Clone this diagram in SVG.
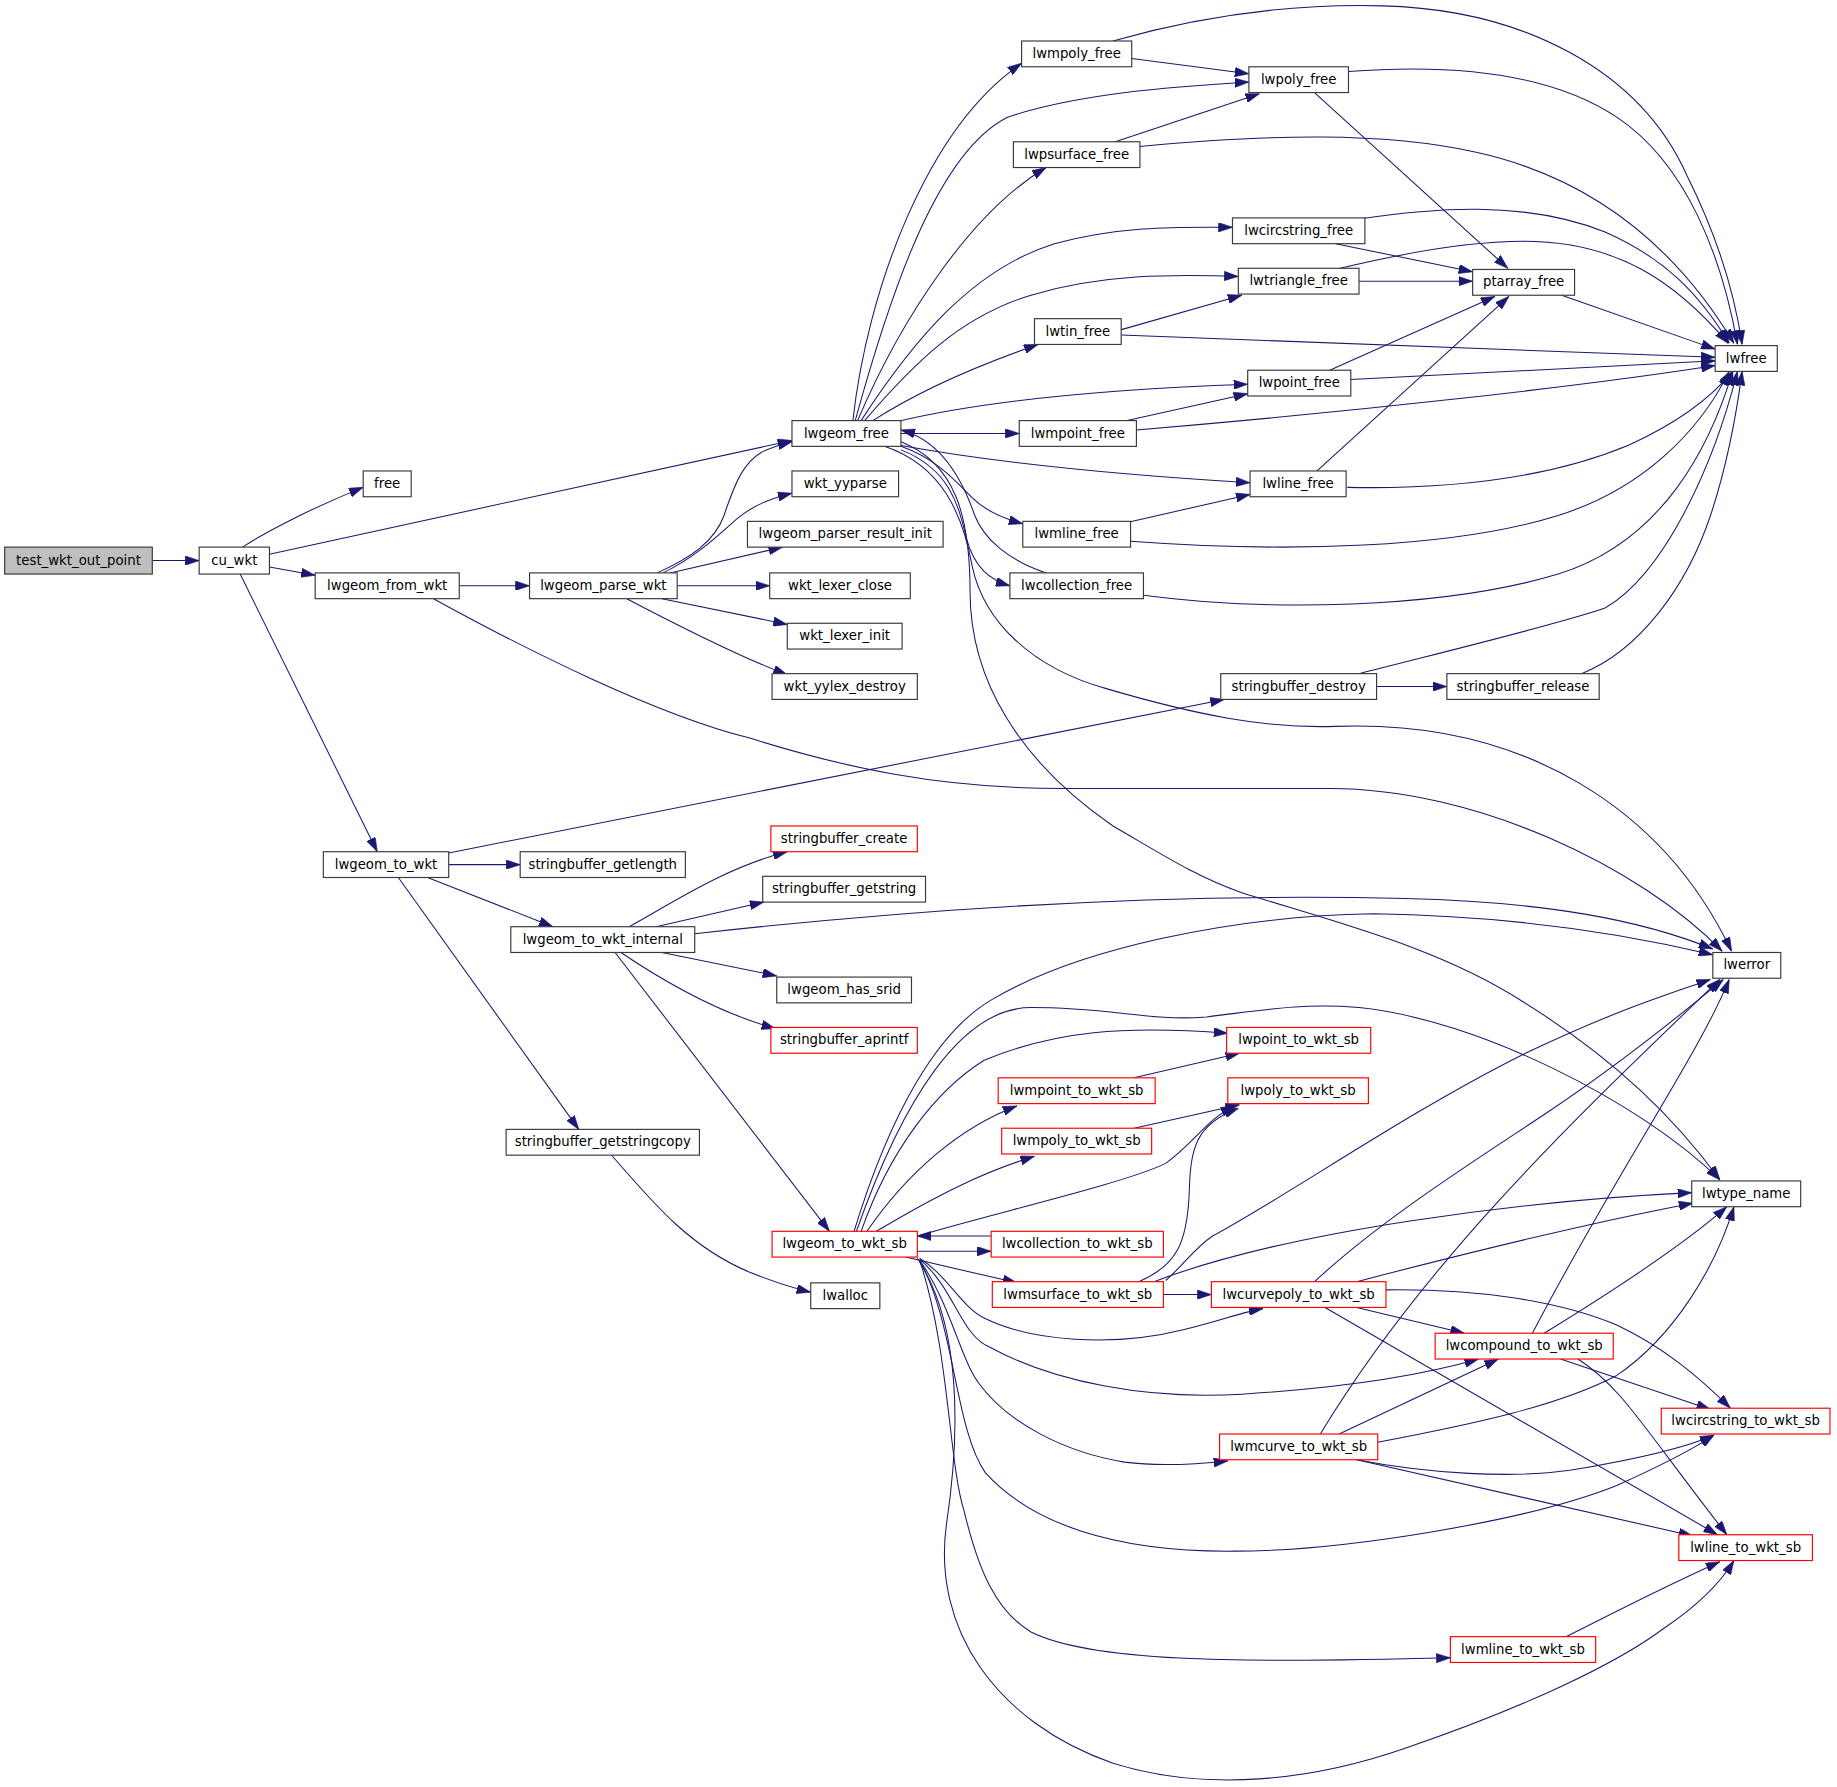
<svg xmlns="http://www.w3.org/2000/svg" width="1837" height="1787" viewBox="0 0 1837 1787">
<style>
.nd rect{fill:#ffffff;stroke:#3a3a3a;stroke-width:1}
.nd.red rect{stroke:#ff0000}
.nd.root rect{fill:#bfbfbf}
.nd text{font-family:"DejaVu Sans","Liberation Sans",sans-serif;font-size:11.35px;fill:#000000;text-anchor:middle}
#connectors path{fill:none;stroke:#191970;stroke-width:0.9;marker-end:url(#ah)}
</style>
<defs>
<marker id="ah" markerUnits="userSpaceOnUse" markerWidth="12" markerHeight="8" viewBox="0 0 12 8" refX="12" refY="4" orient="auto">
<path d="M0,0 L12,4 L0,8 z" fill="#191970" stroke="#191970" stroke-width="0.5"/>
</marker>
</defs>
<rect x="0" y="0" width="1837" height="1787" fill="#ffffff"/>
<g transform="scale(1.17156)">
<g id="connectors">
<path d="M130,478.5 L170,478.5"/>
<path d="M207,467 C230,452 270,432 310,416"/>
<path d="M230,473 L676,376"/>
<path d="M230,484 L269,491"/>
<path d="M205,490 L322,727"/>
<path d="M392,500 L452,500"/>
<path d="M370,511 C450,555 560,610 640,630 C720,655 800,673 907,673 L1135,673 C1260,673 1400,740 1470,812"/>
<path d="M561,489 C590,476 610,462 618,440 C628,410 635,395 650,386 C660,381 668,379 676,377"/>
<path d="M566,489 C595,475 615,455 630,442 C645,430 660,425 676,421"/>
<path d="M572,489 L668,467"/>
<path d="M578,500 L657,500"/>
<path d="M565,511 L672,533"/>
<path d="M535,511 C575,532 630,560 672,576"/>
<path d="M728,359 C740,250 790,110 872,54"/>
<path d="M730,359 C760,250 800,130 860,100 C920,80 1000,74 1066,70"/>
<path d="M732,359 C770,270 830,180 893,143"/>
<path d="M735,359 C780,290 830,230 900,208 C960,192 1010,194 1052,194"/>
<path d="M738,359 C780,310 820,270 880,252 C940,234 1000,234 1057,236"/>
<path d="M745,359 C790,330 840,310 886,294"/>
<path d="M765,360 C840,342 950,332 1065,328"/>
<path d="M769,370 L870,370"/>
<path d="M768,380 C850,395 950,405 1067,412"/>
<path d="M769,381 C800,392 815,410 830,425 C842,437 858,443 873,447"/>
<path d="M769,384 C810,400 818,430 825,460 C832,485 845,495 862,500"/>
<path d="M893,489 C860,478 840,460 832,440 C820,405 800,375 769,367"/>
<path d="M755,381 C805,398 822,440 830,484 C840,530 880,570 945,588 C1020,610 1080,622 1140,620 C1300,614 1420,690 1478,812"/>
<path d="M769,377 C815,395 828,440 828,505 C828,580 870,650 950,705 C990,728 1020,748 1060,762 C1150,790 1230,810 1300,855 C1380,905 1430,955 1468,1007"/>
<path d="M966,50 L1066,63"/>
<path d="M950,35 C1020,15 1100,3 1180,5 C1300,8 1400,60 1440,150 C1470,210 1482,260 1487,294"/>
<path d="M1151,61 C1230,55 1320,60 1380,100 C1440,140 1470,220 1483,294"/>
<path d="M1122,79 L1287,229"/>
<path d="M952,121 L1075,80"/>
<path d="M973,125 C1080,115 1180,112 1260,130 C1360,152 1430,210 1480,293"/>
<path d="M1140,208 L1257,232"/>
<path d="M1160,187 C1220,178 1300,170 1370,198 C1420,220 1450,250 1476,293"/>
<path d="M1160,240 L1257,240"/>
<path d="M1144,229 C1190,218 1250,206 1300,206 C1380,206 1430,240 1475,293"/>
<path d="M955,282 L1060,252"/>
<path d="M957,286 L1464,305"/>
<path d="M1135,316 L1276,253"/>
<path d="M1153,324 L1464,308"/>
<path d="M962,359 L1065,336"/>
<path d="M970,367 C1150,352 1350,330 1464,312"/>
<path d="M1123,403 L1288,253"/>
<path d="M1150,416 C1250,418 1330,405 1390,380 C1430,362 1460,340 1479,317"/>
<path d="M962,446 L1067,422"/>
<path d="M965,462 C1100,472 1240,468 1330,440 C1400,418 1450,370 1476,317"/>
<path d="M976,508 C1080,522 1230,520 1330,490 C1420,462 1460,380 1479,317"/>
<path d="M1160,575 C1230,557 1330,533 1370,519 C1420,490 1462,400 1483,317"/>
<path d="M1175,586 L1235,586"/>
<path d="M1350,575 C1400,555 1440,500 1460,440 C1475,395 1482,355 1487,317"/>
<path d="M1333,252 L1464,298"/>
<path d="M383,728 L1045,597"/>
<path d="M383,738 L444,738"/>
<path d="M365,749 L472,791"/>
<path d="M340,749 L494,964"/>
<path d="M537,791 C575,770 620,740 672,727"/>
<path d="M560,791 L652,770"/>
<path d="M593,797 C800,774 1000,762 1200,767 C1320,770 1400,785 1462,810"/>
<path d="M565,813 L663,833"/>
<path d="M530,813 C570,840 615,865 662,878"/>
<path d="M525,813 L708,1051"/>
<path d="M522,986 C560,1030 590,1065 640,1086 C660,1094 675,1099 692,1103"/>
<path d="M729,1051 C760,950 800,880 847,853 C920,810 1050,782 1172,780 C1300,782 1400,800 1462,815"/>
<path d="M735,1051 C760,980 800,930 840,905 C900,880 960,875 1048,882"/>
<path d="M731,1051 C770,940 820,860 880,860 C950,860 980,872 1030,868 C1080,862 1110,856 1160,860 C1260,870 1400,940 1468,1007"/>
<path d="M740,1051 C775,1000 820,962 868,944"/>
<path d="M748,1051 C800,1020 840,1000 883,987"/>
<path d="M783,1055 C850,1035 960,1010 995,993 C1020,975 1030,955 1054,944"/>
<path d="M846,1055 L783,1055"/>
<path d="M783,1068 L846,1068"/>
<path d="M773,1073 L868,1095"/>
<path d="M785,1074 C810,1090 820,1115 840,1125 C880,1145 950,1150 1010,1135 C1040,1128 1060,1120 1078,1117"/>
<path d="M785,1075 C815,1100 820,1140 845,1150 C900,1180 980,1195 1060,1190 C1140,1185 1210,1175 1262,1160"/>
<path d="M785,1076 C810,1110 820,1160 835,1180 C860,1215 910,1240 960,1248 C990,1252 1020,1250 1048,1247"/>
<path d="M785,1076 C815,1130 815,1220 841,1257 C880,1300 950,1325 1054,1324 C1140,1324 1300,1300 1380,1268 C1420,1250 1445,1237 1463,1225"/>
<path d="M785,1076 C810,1150 810,1250 823,1290 C835,1340 850,1375 880,1393 C930,1418 1050,1420 1238,1415"/>
<path d="M783,1074 C820,1130 820,1220 808,1300 C795,1390 850,1470 950,1505 C1030,1530 1120,1520 1200,1492 C1300,1458 1380,1420 1420,1390 C1450,1370 1468,1352 1480,1332"/>
<path d="M968,920 L1058,899"/>
<path d="M968,963 L1058,943"/>
<path d="M972,1094 C1005,1080 1013,1060 1015,1020 C1016,980 1020,960 1057,946"/>
<path d="M995,1093 C1010,1080 1020,1065 1035,1055 C1100,1020 1200,950 1300,900 C1380,862 1420,850 1460,836"/>
<path d="M985,1094 C1100,1050 1300,1025 1444,1018"/>
<path d="M993,1105 L1034,1105"/>
<path d="M1122,1094 C1180,1040 1260,990 1320,950 C1380,910 1430,870 1471,836"/>
<path d="M1158,1094 C1250,1070 1350,1045 1445,1027"/>
<path d="M1158,1116 L1250,1138"/>
<path d="M1183,1101 C1260,1100 1330,1110 1380,1131 C1420,1150 1450,1175 1477,1202"/>
<path d="M1131,1116 L1466,1310"/>
<path d="M1308,1138 C1380,1000 1450,900 1476,836"/>
<path d="M1318,1138 C1380,1100 1440,1060 1474,1030"/>
<path d="M1332,1160 L1460,1203"/>
<path d="M1347,1160 C1385,1185 1400,1215 1474,1310"/>
<path d="M1127,1224 C1220,1070 1360,940 1468,836"/>
<path d="M1143,1224 L1279,1160"/>
<path d="M1176,1231 C1260,1215 1330,1200 1380,1174 C1430,1140 1465,1080 1480,1030"/>
<path d="M1158,1246 C1220,1258 1290,1262 1340,1255 C1400,1245 1440,1235 1463,1225"/>
<path d="M1158,1246 L1445,1311"/>
<path d="M1335,1398 C1380,1375 1430,1350 1468,1333"/>
</g>
<g id="n_test_wkt_out_point" class="nd root"><rect x="4" y="467" width="126" height="23"/><text x="67" y="482">test_wkt_out_point</text></g>
<g id="n_cu_wkt" class="nd"><rect x="170" y="467" width="60" height="23"/><text x="200" y="482">cu_wkt</text></g>
<g id="n_free" class="nd"><rect x="310" y="402" width="41" height="22"/><text x="330.5" y="416.5">free</text></g>
<g id="n_lwgeom_from_wkt" class="nd"><rect x="269" y="489" width="123" height="22"/><text x="330.5" y="503.5">lwgeom_from_wkt</text></g>
<g id="n_lwgeom_parse_wkt" class="nd"><rect x="452" y="489" width="126" height="22"/><text x="515" y="503.5">lwgeom_parse_wkt</text></g>
<g id="n_lwgeom_free" class="nd"><rect x="676" y="359" width="93" height="22"/><text x="722.5" y="373.5">lwgeom_free</text></g>
<g id="n_wkt_yyparse" class="nd"><rect x="676" y="402" width="91" height="22"/><text x="721.5" y="416.5">wkt_yyparse</text></g>
<g id="n_lwgeom_parser_result_init" class="nd"><rect x="638" y="445" width="167" height="22"/><text x="721.5" y="459.5">lwgeom_parser_result_init</text></g>
<g id="n_wkt_lexer_close" class="nd"><rect x="657" y="489" width="120" height="22"/><text x="717" y="503.5">wkt_lexer_close</text></g>
<g id="n_wkt_lexer_init" class="nd"><rect x="672" y="532" width="98" height="22"/><text x="721" y="546.5">wkt_lexer_init</text></g>
<g id="n_wkt_yylex_destroy" class="nd"><rect x="659" y="575" width="124" height="22"/><text x="721" y="589.5">wkt_yylex_destroy</text></g>
<g id="n_lwmpoly_free" class="nd"><rect x="872" y="35" width="94" height="22"/><text x="919" y="49.5">lwmpoly_free</text></g>
<g id="n_lwpoly_free" class="nd"><rect x="1066" y="57" width="85" height="22"/><text x="1108.5" y="71.5">lwpoly_free</text></g>
<g id="n_lwpsurface_free" class="nd"><rect x="865" y="121" width="108" height="22"/><text x="919" y="135.5">lwpsurface_free</text></g>
<g id="n_lwcircstring_free" class="nd"><rect x="1052" y="186" width="113" height="22"/><text x="1108.5" y="200.5">lwcircstring_free</text></g>
<g id="n_lwtriangle_free" class="nd"><rect x="1057" y="229" width="103" height="22"/><text x="1108.5" y="243.5">lwtriangle_free</text></g>
<g id="n_lwtin_free" class="nd"><rect x="883" y="272" width="74" height="22"/><text x="920" y="286.5">lwtin_free</text></g>
<g id="n_lwpoint_free" class="nd"><rect x="1065" y="316" width="88" height="22"/><text x="1109" y="330.5">lwpoint_free</text></g>
<g id="n_lwmpoint_free" class="nd"><rect x="870" y="359" width="100" height="22"/><text x="920" y="373.5">lwmpoint_free</text></g>
<g id="n_lwline_free" class="nd"><rect x="1067" y="402" width="82" height="22"/><text x="1108" y="416.5">lwline_free</text></g>
<g id="n_lwmline_free" class="nd"><rect x="873" y="445" width="92" height="22"/><text x="919" y="459.5">lwmline_free</text></g>
<g id="n_lwcollection_free" class="nd"><rect x="862" y="489" width="114" height="22"/><text x="919" y="503.5">lwcollection_free</text></g>
<g id="n_ptarray_free" class="nd"><rect x="1257" y="230" width="87" height="22"/><text x="1300.5" y="244.5">ptarray_free</text></g>
<g id="n_lwfree" class="nd"><rect x="1464" y="295" width="53" height="22"/><text x="1490.5" y="309.5">lwfree</text></g>
<g id="n_stringbuffer_destroy" class="nd"><rect x="1042" y="575" width="133" height="22"/><text x="1108.5" y="589.5">stringbuffer_destroy</text></g>
<g id="n_stringbuffer_release" class="nd"><rect x="1235" y="575" width="130" height="22"/><text x="1300" y="589.5">stringbuffer_release</text></g>
<g id="n_lwgeom_to_wkt" class="nd"><rect x="276" y="727" width="107" height="22"/><text x="329.5" y="741.5">lwgeom_to_wkt</text></g>
<g id="n_stringbuffer_getlength" class="nd"><rect x="444" y="727" width="141" height="22"/><text x="514.5" y="741.5">stringbuffer_getlength</text></g>
<g id="n_stringbuffer_create" class="nd red"><rect x="658" y="705" width="125" height="22"/><text x="720.5" y="719.5">stringbuffer_create</text></g>
<g id="n_stringbuffer_getstring" class="nd"><rect x="651" y="748" width="139" height="22"/><text x="720.5" y="762.5">stringbuffer_getstring</text></g>
<g id="n_lwgeom_to_wkt_internal" class="nd"><rect x="436" y="791" width="157" height="22"/><text x="514.5" y="805.5">lwgeom_to_wkt_internal</text></g>
<g id="n_lwgeom_has_srid" class="nd"><rect x="663" y="834" width="115" height="22"/><text x="720.5" y="848.5">lwgeom_has_srid</text></g>
<g id="n_stringbuffer_aprintf" class="nd red"><rect x="658" y="877" width="125" height="22"/><text x="720.5" y="891.5">stringbuffer_aprintf</text></g>
<g id="n_stringbuffer_getstringcopy" class="nd"><rect x="432" y="964" width="165" height="22"/><text x="514.5" y="978.5">stringbuffer_getstringcopy</text></g>
<g id="n_lwalloc" class="nd"><rect x="692" y="1095" width="59" height="22"/><text x="721.5" y="1109.5">lwalloc</text></g>
<g id="n_lwgeom_to_wkt_sb" class="nd red"><rect x="659" y="1051" width="124" height="22"/><text x="721" y="1065.5">lwgeom_to_wkt_sb</text></g>
<g id="n_lwerror" class="nd"><rect x="1462" y="813" width="58" height="22"/><text x="1491" y="827.5">lwerror</text></g>
<g id="n_lwpoint_to_wkt_sb" class="nd red"><rect x="1047" y="877" width="123" height="22"/><text x="1108.5" y="891.5">lwpoint_to_wkt_sb</text></g>
<g id="n_lwmpoint_to_wkt_sb" class="nd red"><rect x="852" y="920" width="134" height="22"/><text x="919" y="934.5">lwmpoint_to_wkt_sb</text></g>
<g id="n_lwpoly_to_wkt_sb" class="nd red"><rect x="1048" y="920" width="120" height="22"/><text x="1108" y="934.5">lwpoly_to_wkt_sb</text></g>
<g id="n_lwmpoly_to_wkt_sb" class="nd red"><rect x="855" y="963" width="128" height="22"/><text x="919" y="977.5">lwmpoly_to_wkt_sb</text></g>
<g id="n_lwtype_name" class="nd"><rect x="1444" y="1008" width="93" height="22"/><text x="1490.5" y="1022.5">lwtype_name</text></g>
<g id="n_lwcollection_to_wkt_sb" class="nd red"><rect x="846" y="1051" width="147" height="22"/><text x="919.5" y="1065.5">lwcollection_to_wkt_sb</text></g>
<g id="n_lwmsurface_to_wkt_sb" class="nd red"><rect x="847" y="1094" width="146" height="22"/><text x="920" y="1108.5">lwmsurface_to_wkt_sb</text></g>
<g id="n_lwcurvepoly_to_wkt_sb" class="nd red"><rect x="1034" y="1094" width="149" height="22"/><text x="1108.5" y="1108.5">lwcurvepoly_to_wkt_sb</text></g>
<g id="n_lwcompound_to_wkt_sb" class="nd red"><rect x="1225" y="1138" width="152" height="22"/><text x="1301" y="1152.5">lwcompound_to_wkt_sb</text></g>
<g id="n_lwcircstring_to_wkt_sb" class="nd red"><rect x="1418" y="1202" width="144" height="22"/><text x="1490" y="1216.5">lwcircstring_to_wkt_sb</text></g>
<g id="n_lwmcurve_to_wkt_sb" class="nd red"><rect x="1041" y="1224" width="135" height="22"/><text x="1108.5" y="1238.5">lwmcurve_to_wkt_sb</text></g>
<g id="n_lwline_to_wkt_sb" class="nd red"><rect x="1433" y="1310" width="114" height="22"/><text x="1490" y="1324.5">lwline_to_wkt_sb</text></g>
<g id="n_lwmline_to_wkt_sb" class="nd red"><rect x="1238" y="1397" width="124" height="22"/><text x="1300" y="1411.5">lwmline_to_wkt_sb</text></g>
</g>
</svg>
